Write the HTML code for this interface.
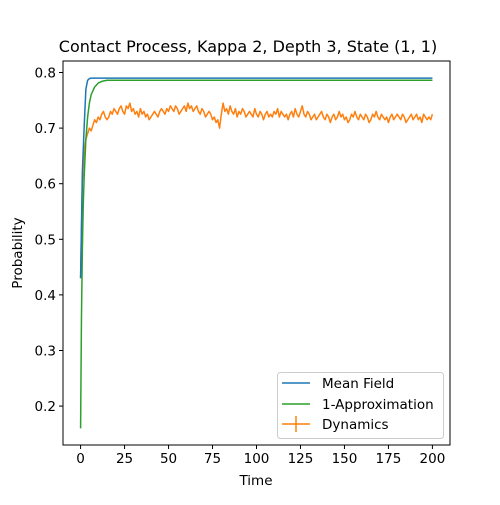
<!DOCTYPE html>
<html><head><meta charset="utf-8"><style>
body{margin:0;background:#fff}
svg text{font-family:"DejaVu Sans","Liberation Sans",sans-serif;fill:#000}
</style></head><body>
<svg id="chart" width="500" height="500" xmlns="http://www.w3.org/2000/svg">
<rect width="500" height="500" fill="#fff"/>
<text x="248" y="52" font-size="16" text-anchor="middle">Contact Process, Kappa 2, Depth 3, State (1, 1)</text>
<g id="plot"></g>
<text x="256" y="485" font-size="13.5" text-anchor="middle">Time</text>
<text transform="translate(22,253) rotate(-90)" font-size="13.5" text-anchor="middle">Probability</text>
<g>
<rect x="277.5" y="372.5" width="166" height="66" rx="3" fill="#fff" fill-opacity="0.8" stroke="#ccc"/>
<line x1="282" y1="383" x2="310" y2="383" stroke="#1f77b4" stroke-width="1.5"/>
<text x="322" y="388" font-size="13.5">Mean Field</text>
<line x1="282" y1="404" x2="310" y2="404" stroke="#2ca02c" stroke-width="1.5"/>
<text x="322" y="409" font-size="13.5">1-Approximation</text>
<line x1="282" y1="424" x2="310" y2="424" stroke="#ff7f0e" stroke-width="1.5"/>
<line x1="296" y1="416" x2="296" y2="432" stroke="#ff7f0e" stroke-width="1.5"/>
<text x="322" y="429" font-size="13.5">Dynamics</text>
</g>
</svg>
<script>
const xTicks=[0,25,50,75,100,125,150,175,200];
const yTicks=[0.2,0.3,0.4,0.5,0.6,0.7,0.8];
const mfT=[0,1,2,3,4,5,6,200];
const mfV=[0.43,0.62,0.70,0.77,0.786,0.789,0.790,0.790];
const apT=[0,0.5,1,1.5,2,3,4,5,6,8,10,12,15,20,200];
const apV=[0.16,0.36,0.48,0.56,0.61,0.68,0.72,0.745,0.76,0.774,0.781,0.784,0.786,0.786,0.786];
const dynV=[0.43,0.60,0.66,0.68,0.69,0.70,0.695,0.705,0.715,0.71,0.72,0.715,0.725,0.73,0.72,0.715,0.72,0.73,0.725,0.735,
0.73,0.725,0.735,0.74,0.73,0.725,0.74,0.735,0.745,0.73,0.735,0.725,0.73,0.72,0.735,0.725,0.73,0.72,0.725,0.715,
0.72,0.725,0.73,0.725,0.72,0.73,0.735,0.73,0.725,0.735,0.73,0.74,0.735,0.73,0.74,0.735,0.725,0.73,0.735,0.74,
0.73,0.745,0.735,0.74,0.73,0.735,0.74,0.73,0.725,0.735,0.73,0.72,0.725,0.73,0.725,0.715,0.72,0.71,0.715,0.70,
0.725,0.745,0.73,0.735,0.725,0.74,0.73,0.725,0.735,0.72,0.73,0.725,0.735,0.73,0.72,0.725,0.73,0.725,0.72,0.735,
0.725,0.72,0.73,0.725,0.715,0.725,0.73,0.72,0.725,0.72,0.73,0.725,0.735,0.72,0.73,0.725,0.72,0.725,0.715,0.725,
0.73,0.72,0.735,0.725,0.72,0.73,0.74,0.725,0.72,0.73,0.725,0.715,0.72,0.725,0.715,0.72,0.725,0.73,0.72,0.715,
0.725,0.72,0.71,0.72,0.725,0.715,0.72,0.73,0.72,0.725,0.715,0.72,0.71,0.715,0.725,0.72,0.73,0.72,0.715,0.725,
0.72,0.715,0.725,0.72,0.71,0.715,0.725,0.72,0.73,0.72,0.715,0.725,0.72,0.715,0.72,0.71,0.72,0.725,0.715,0.72,
0.725,0.72,0.715,0.725,0.72,0.71,0.715,0.72,0.725,0.715,0.72,0.725,0.715,0.72,0.71,0.725,0.72,0.715,0.72,0.715,0.725];
const L=63,R=450,T=61,B=445;
const X=t=>L+(t+10)/220*(R-L);
const Y=v=>B-(v-0.13)/(0.8207-0.13)*(B-T);
const NS="http://www.w3.org/2000/svg";
const g=document.getElementById('plot');
function mk(tag,attrs){const e=document.createElementNS(NS,tag);for(const k in attrs)e.setAttribute(k,attrs[k]);g.appendChild(e);return e;}
function line(ts,vs,color,name){
  const d=ts.map((t,i)=>(i?'L':'M')+X(t).toFixed(2)+','+Y(vs[i]).toFixed(2)).join('');
  const p=mk('path',{d:d,fill:'none',stroke:color,'stroke-width':1.5,'stroke-linejoin':'round'});
  
  
}
line(dynV.map((v,i)=>i*200/(dynV.length-1)),dynV,'#ff7f0e','dynamics-line');
line(apT,apV,'#2ca02c','approximation-line');
line(mfT,mfV,'#1f77b4','mean-field-line');
const frame=mk('rect',{x:L,y:T,width:R-L,height:B-T,fill:'none',stroke:'#000','stroke-width':1});


xTicks.forEach(t=>{
  mk('line',{x1:X(t),y1:B,x2:X(t),y2:B+4,stroke:'#000'});
  const tx=mk('text',{x:X(t),y:B+18,'font-size':13.5,'text-anchor':'middle'});tx.textContent=t;
  
  
});
yTicks.forEach(v=>{
  mk('line',{x1:L-4,y1:Y(v),x2:L,y2:Y(v),stroke:'#000'});
  const tx=mk('text',{x:L-7,y:Y(v)+5,'font-size':13.5,'text-anchor':'end'});tx.textContent=v.toFixed(1);
  
  
});
</script>
</body></html>
